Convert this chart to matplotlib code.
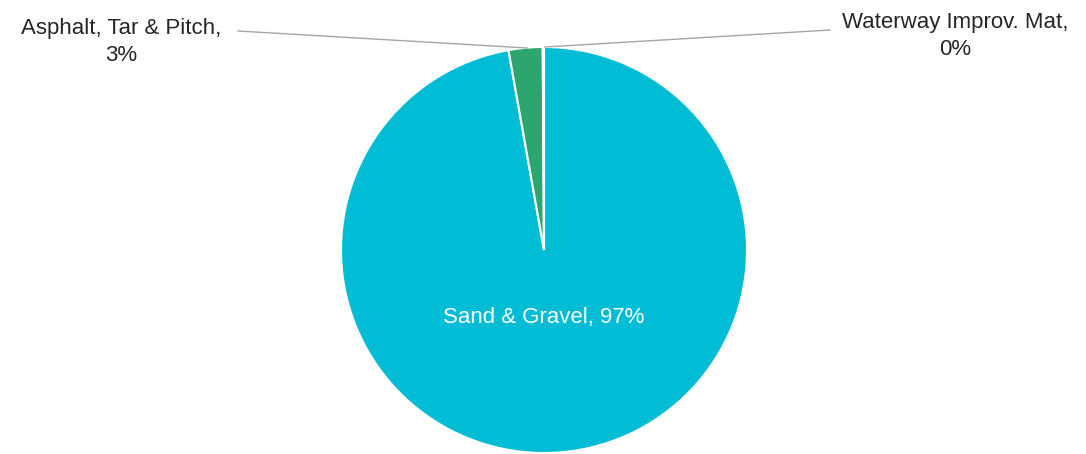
import matplotlib.pyplot as plt

plt.rcParams['font.family'] = ['Liberation Sans', 'DejaVu Sans']

labels = ['Sand & Gravel', 'Asphalt, Tar & Pitch', 'Waterway Improv. Mat']
values = [97.2, 2.7, 0.1]
pct_text = ['97%', '3%', '0%']
colors = ['#00BCD4', '#2CA56F', '#00BCD4']

W, H = 1086, 454
fig = plt.figure(figsize=(W / 100, H / 100), dpi=100)
ax = fig.add_axes([0, 0, 1, 1])

cx, cy, r = 544, H - 250, 203
ax.pie(values, colors=colors, startangle=90, counterclock=False,
       center=(cx, cy), radius=r, frame=True,
       wedgeprops=dict(edgecolor='white', linewidth=1.5))
ax.set_xlim(0, W)
ax.set_ylim(0, H)
ax.set_aspect('equal')
ax.axis('off')

fs = 16
# inside label
ax.text(cx, H - 318, f'{labels[0]}, {pct_text[0]}', color='white',
        fontsize=fs, ha='center', va='center')

# outside labels with leader lines
ax.text(121, H - 42, f'{labels[1]},\n{pct_text[1]}', color='#262626',
        fontsize=fs, ha='center', va='center', linespacing=1.35)
ax.plot([238, 527], [H - 31, H - 48], color='#A6A6A6', lw=1)

ax.text(955, H - 36, f'{labels[2]},\n{pct_text[2]}', color='#262626',
        fontsize=fs, ha='center', va='center', linespacing=1.35)
ax.plot([545, 830], [H - 47, H - 30], color='#A6A6A6', lw=1)

fig.savefig('out.png', dpi=100)
